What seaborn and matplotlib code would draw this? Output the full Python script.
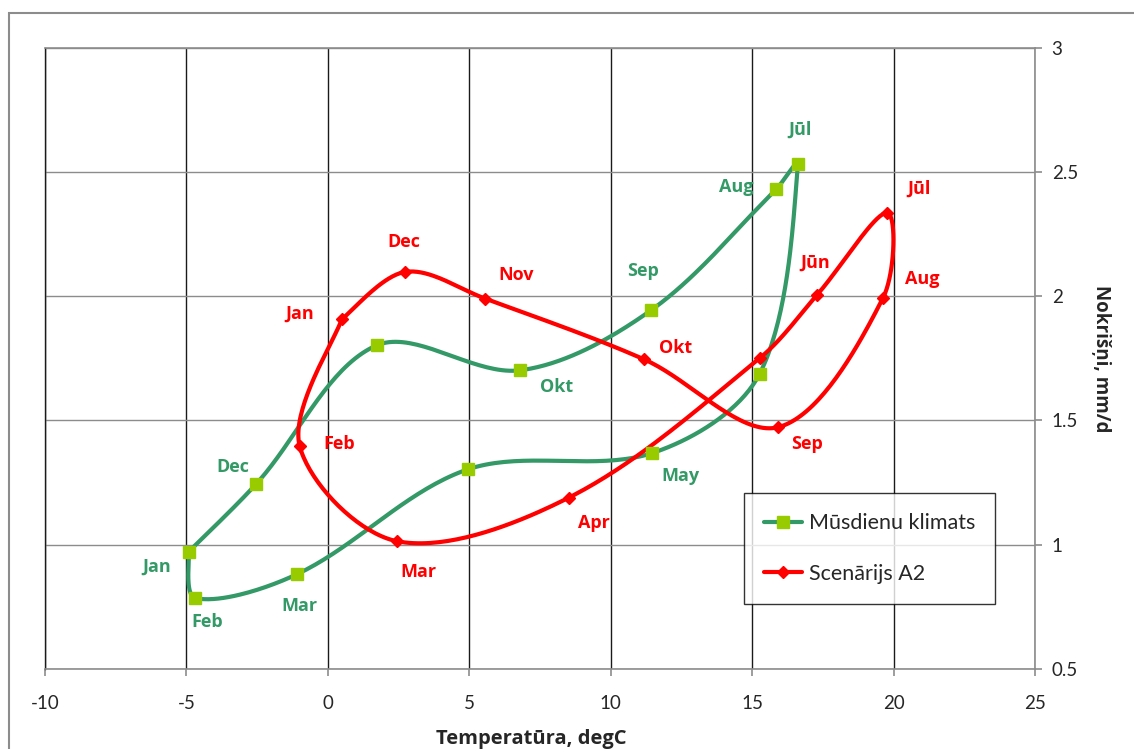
import numpy as np
import matplotlib
matplotlib.use("Agg")
import matplotlib.pyplot as plt
from matplotlib.lines import Line2D
from matplotlib.patches import Rectangle
import seaborn as sns

# Monthly climate: mean temperature (degC) and precipitation (mm/day)
months = ["Jan", "Feb", "Mar", "Apr", "May", "Jūn", "Jūl", "Aug", "Sep", "Okt", "Nov", "Dec"]

current_temp = [-4.92, -4.68, -1.08, 4.94, 11.47, 15.27, 16.62, 15.85, 11.42, 6.80, 1.72, -2.53]
current_prec = [0.972, 0.785, 0.882, 1.303, 1.369, 1.689, 2.531, 2.431, 1.943, 1.702, 1.802, 1.245]

a2_temp = [0.49, -1.00, 2.45, 8.51, 15.27, 17.30, 19.77, 19.63, 15.92, 11.18, 5.57, 2.74]
a2_prec = [1.907, 1.399, 1.014, 1.189, 1.751, 2.006, 2.336, 1.994, 1.473, 1.746, 1.990, 2.098]

# Which months get a text label, and its offset from the marker (pixels)
current_labels = {"Jan": (-32, -15), "Feb": (12, -24), "Mar": (2, -32), "May": (28, -23),
                  "Jūl": (2, 35), "Aug": (-40, 2), "Sep": (-8, 39), "Okt": (36, -17),
                  "Dec": (-23, 17)}
a2_labels = {"Jan": (-42, 6), "Feb": (40, 2), "Mar": (21, -31), "Apr": (25, -25),
             "Jūn": (-2, 32), "Jūl": (32, 24), "Aug": (39, 19), "Sep": (29, -17),
             "Okt": (31, 11), "Nov": (31, 24), "Dec": (-2, 30)}

GREEN = "#339966"
GREEN_MARK = "#99CC00"
RED = "#FF0000"

W, H = 1134, 749
AX_LEFT, AX_RIGHT, AX_TOP, AX_BOTTOM = 45, 1035, 47.7, 669
XMIN, XMAX, YMIN, YMAX = -10, 25, 0.5, 3
# pixels per data unit, so the smoothing works in screen proportions
SX = (AX_RIGHT - AX_LEFT) / (XMAX - XMIN)
SY = (AX_BOTTOM - AX_TOP) / (YMAX - YMIN)


def smooth_path(xs, ys, n=40):
    """Bezier smoothing through the points, closed back to the first month.
    Tangent handles are shortened next to short segments to avoid overshoot."""
    P = np.column_stack([list(xs) + [xs[0]], list(ys) + [ys[0]]]).astype(float)
    S = P * np.array([SX, SY])
    m = len(P)
    t = np.linspace(0, 1, n)[:, None]

    def handle(i, toward):
        # control-point offset at point i along the tangent, scaled by segment lengths
        if i == 0 or i == m - 1:
            nb = S[1] - S[0] if i == 0 else S[m - 1] - S[m - 2]
            return nb / 6.0
        prev, nxt = S[i - 1], S[i + 1]
        d_prev = np.linalg.norm(S[i] - prev)
        d_next = np.linalg.norm(nxt - S[i])
        if d_prev + d_next == 0:
            return np.zeros(2)
        tang = nxt - prev
        d_side = d_next if toward > 0 else d_prev
        return tang * (1.0 / 3.0) * d_side / (d_prev + d_next)

    pieces = []
    for i in range(m - 1):
        p1, p2 = S[i], S[i + 1]
        c1 = p1 + handle(i, +1)
        c2 = p2 - handle(i + 1, -1)
        seg = (1 - t) ** 3 * p1 + 3 * (1 - t) ** 2 * t * c1 + 3 * (1 - t) * t ** 2 * c2 + t ** 3 * p2
        pieces.append(seg if i == 0 else seg[1:])
    return np.vstack(pieces) / np.array([SX, SY])


sns.set_style("white")
plt.rcParams["font.family"] = ["Lato", "DejaVu Sans"]
plt.rcParams["axes.unicode_minus"] = False
LABEL_FONT = ["Open Sans", "DejaVu Sans"]

fig = plt.figure(figsize=(W / 100, H / 100), dpi=100)
ax = fig.add_axes([AX_LEFT / W, 1 - AX_BOTTOM / H, (AX_RIGHT - AX_LEFT) / W, (AX_BOTTOM - AX_TOP) / H])

# chart-area frame
fig.patches.append(Rectangle((9 / W, -0.1), 1.2, 1 - 13 / H + 0.1, transform=fig.transFigure,
                             fill=False, edgecolor="#8c8c8c", linewidth=1.5, zorder=0))

ax.set_xlim(XMIN, XMAX)
ax.set_ylim(YMIN, YMAX)
ax.set_xticks(np.arange(-10, 26, 5))
ax.set_yticks([0.5, 1, 1.5, 2, 2.5, 3])
ax.set_yticklabels(["0.5", "1", "1.5", "2", "2.5", "3"])
ax.xaxis.grid(True, color="#1a1a1a", linewidth=1.0)
ax.yaxis.grid(True, color="#8c8c8c", linewidth=1.0)
ax.set_axisbelow(True)

for side in ["top", "right", "bottom"]:
    ax.spines[side].set_color("#8c8c8c")
    ax.spines[side].set_linewidth(1.2)
ax.spines["left"].set_color("#1a1a1a")
ax.spines["left"].set_linewidth(1.0)

ax.yaxis.tick_right()
ax.yaxis.set_label_position("right")
ax.tick_params(axis="x", direction="out", length=5, width=1.2, color="#8c8c8c",
               labelsize=13.5, pad=14, bottom=True)
ax.tick_params(axis="y", direction="out", length=5, width=1.2, color="#8c8c8c",
               labelsize=13.5, pad=7, right=True, left=False)

# curves and markers
for xs, ys, col, mk, mcol, ms in [
    (current_temp, current_prec, GREEN, "s", GREEN_MARK, 8.5),
    (a2_temp, a2_prec, RED, "D", RED, 6.0),
]:
    path = smooth_path(xs, ys)
    sns.lineplot(x=path[:, 0], y=path[:, 1], sort=False, estimator=None, ax=ax,
                 color=col, linewidth=3.0, zorder=3)
    ax.plot(xs, ys, linestyle="none", marker=mk, markersize=ms, color=mcol,
            markeredgecolor=mcol, zorder=4)

for xs, ys, labels, col in [
    (current_temp, current_prec, current_labels, GREEN),
    (a2_temp, a2_prec, a2_labels, RED),
]:
    for m, x, y in zip(months, xs, ys):
        if m in labels:
            ax.annotate(m, (x, y), xytext=labels[m], textcoords="offset pixels",
                        ha="center", va="center", color=col, fontsize=13,
                        fontweight="bold", family=LABEL_FONT, zorder=5)

ax.set_xlabel("Temperatūra, degC", fontsize=14.5, fontweight="bold", family=LABEL_FONT)
ax.set_ylabel("Nokrišņi, mm/d", fontsize=13.5, fontweight="bold", family=LABEL_FONT,
              rotation=270)
ax.xaxis.set_label_coords((531 - AX_LEFT) / (AX_RIGHT - AX_LEFT),
                          -(739 - AX_BOTTOM) / (AX_BOTTOM - AX_TOP))
ax.yaxis.set_label_coords((1101 - AX_LEFT) / (AX_RIGHT - AX_LEFT), 0.5)
ax.xaxis.label.set_va("center")
ax.yaxis.label.set_va("center")

handles = [
    Line2D([], [], color=GREEN, linewidth=3, marker="s", markersize=8.5,
           markerfacecolor=GREEN_MARK, markeredgecolor=GREEN_MARK),
    Line2D([], [], color=RED, linewidth=3, marker="D", markersize=6.0,
           markerfacecolor=RED, markeredgecolor=RED),
]
leg = fig.legend(handles, ["Mūsdienu klimats", "Scenārijs A2"],
                 loc="upper left", bbox_to_anchor=(744 / W, 1 - 493 / H),
                 borderaxespad=0, fontsize=15.5, frameon=True, fancybox=False,
                 edgecolor="black", handlelength=1.75, handletextpad=0.3,
                 labelspacing=1.4, borderpad=0.95)
leg.get_frame().set_linewidth(1.0)

fig.savefig("out.png", dpi=100, facecolor="white")
